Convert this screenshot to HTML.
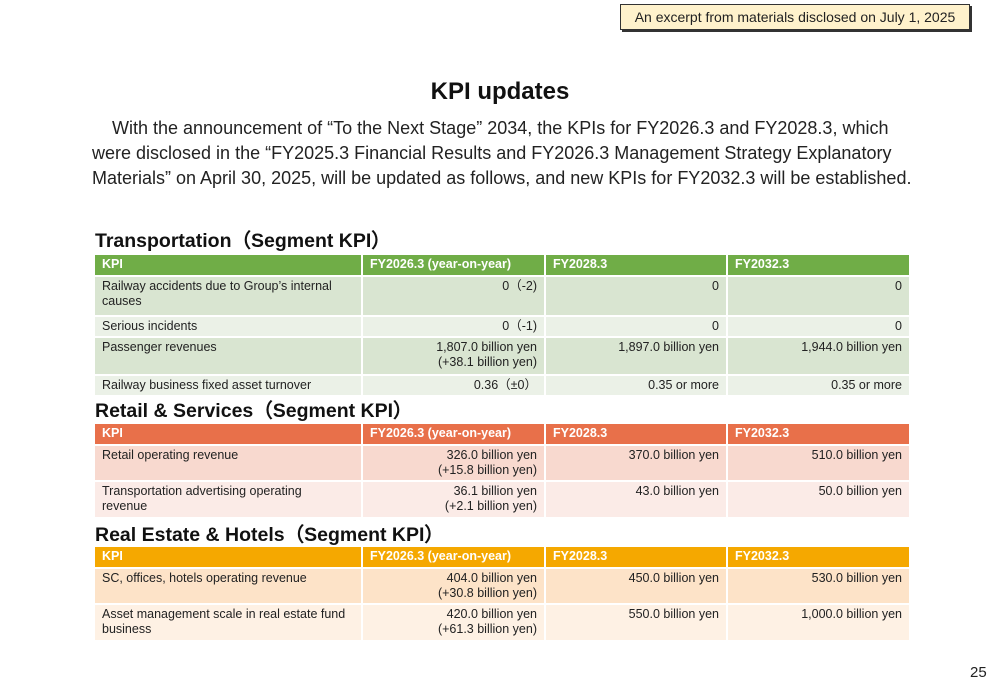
<!DOCTYPE html>
<html><head><meta charset="utf-8"><style>
body{margin:0;width:1000px;height:685px;background:#fff;position:relative;overflow:hidden;font-family:"Liberation Sans","DejaVu Sans",sans-serif;color:#222}
.abs{position:absolute}
.note{left:620px;top:4px;width:348px;height:24px;background:#fff2cc;border:1px solid #333;box-shadow:2px 2px 0 #333;font-size:14px;line-height:24px;text-align:center}
h1{position:absolute;left:0;width:1000px;top:78px;margin:0;text-align:center;font-size:24px;font-weight:bold;color:#111}
.intro{left:92px;top:116px;width:900px;font-size:18px;line-height:25px;color:#222;white-space:nowrap}
.sec{left:95px;font-size:19.5px;font-weight:bold;color:#111}
table{position:absolute;left:95px;width:816px;border-collapse:separate;border-spacing:2px 2px;table-layout:fixed;margin-left:-2px}
td,th{font-size:12.5px;padding:2px 7px;vertical-align:top;line-height:15px}
td:first-child{padding-right:13px}
th{color:#fff;font-weight:bold;text-align:left;height:16px;padding-top:2px}
td+td,th+th{text-align:right}
</style></head><body>
<div class="abs note">An excerpt from materials disclosed on July 1, 2025</div>
<h1>KPI updates</h1>
<div class="abs intro">&nbsp;&nbsp;&nbsp;&nbsp;With the announcement of “To the Next Stage” 2034, the KPIs for FY2026.3 and FY2028.3, which<br>were disclosed in the “FY2025.3 Financial Results and FY2026.3 Management Strategy Explanatory<br>Materials” on April 30, 2025, will be updated as follows, and new KPIs for FY2032.3 will be established.</div>

<div class="abs sec" style="top:224px">Transportation（Segment KPI）</div>
<table style="top:253px">
<colgroup><col style="width:266px"><col style="width:181px"><col style="width:180px"><col style="width:181px"></colgroup>
<tr><th style="background:#70ad47">KPI</th><th style="background:#70ad47;text-align:left">FY2026.3 (year-on-year)</th><th style="background:#70ad47;text-align:left">FY2028.3</th><th style="background:#70ad47;text-align:left">FY2032.3</th></tr>
<tr style="background:#d9e5d1;height:38px"><td>Railway accidents due to Group’s internal causes</td><td>0（-2)</td><td>0</td><td>0</td></tr>
<tr style="background:#ebf1e7;height:18px"><td>Serious incidents</td><td>0（-1)</td><td>0</td><td>0</td></tr>
<tr style="background:#d9e5d1;height:36px"><td>Passenger revenues</td><td>1,807.0 billion yen<br>(+38.1 billion yen)</td><td>1,897.0 billion yen</td><td>1,944.0 billion yen</td></tr>
<tr style="background:#ebf1e7;height:18px"><td>Railway business fixed asset turnover</td><td>0.36（±0）</td><td>0.35 or more</td><td>0.35 or more</td></tr>
</table>

<div class="abs sec" style="top:394px">Retail &amp; Services（Segment KPI）</div>
<table style="top:422px">
<colgroup><col style="width:266px"><col style="width:181px"><col style="width:180px"><col style="width:181px"></colgroup>
<tr><th style="background:#e8704a">KPI</th><th style="background:#e8704a;text-align:left">FY2026.3 (year-on-year)</th><th style="background:#e8704a;text-align:left">FY2028.3</th><th style="background:#e8704a;text-align:left">FY2032.3</th></tr>
<tr style="background:#f8d9cf;height:34px"><td>Retail operating revenue</td><td>326.0 billion yen<br>(+15.8 billion yen)</td><td>370.0 billion yen</td><td>510.0 billion yen</td></tr>
<tr style="background:#fbebe7;height:35px"><td>Transportation advertising operating<br>revenue</td><td>36.1 billion yen<br>(+2.1 billion yen)</td><td>43.0 billion yen</td><td>50.0 billion yen</td></tr>
</table>

<div class="abs sec" style="top:518px">Real Estate &amp; Hotels（Segment KPI）</div>
<table style="top:545px">
<colgroup><col style="width:266px"><col style="width:181px"><col style="width:180px"><col style="width:181px"></colgroup>
<tr><th style="background:#f5a800">KPI</th><th style="background:#f5a800;text-align:left">FY2026.3 (year-on-year)</th><th style="background:#f5a800;text-align:left">FY2028.3</th><th style="background:#f5a800;text-align:left">FY2032.3</th></tr>
<tr style="background:#fde3c8;height:34px"><td>SC, offices, hotels operating revenue</td><td>404.0 billion yen<br>(+30.8 billion yen)</td><td>450.0 billion yen</td><td>530.0 billion yen</td></tr>
<tr style="background:#fef1e4;height:35px"><td style="white-space:nowrap">Asset management scale in real estate fund<br>business</td><td>420.0 billion yen<br>(+61.3 billion yen)</td><td>550.0 billion yen</td><td>1,000.0 billion yen</td></tr>
</table>

<div class="abs" style="left:970px;top:664px;font-size:15px">25</div>
</body></html>
